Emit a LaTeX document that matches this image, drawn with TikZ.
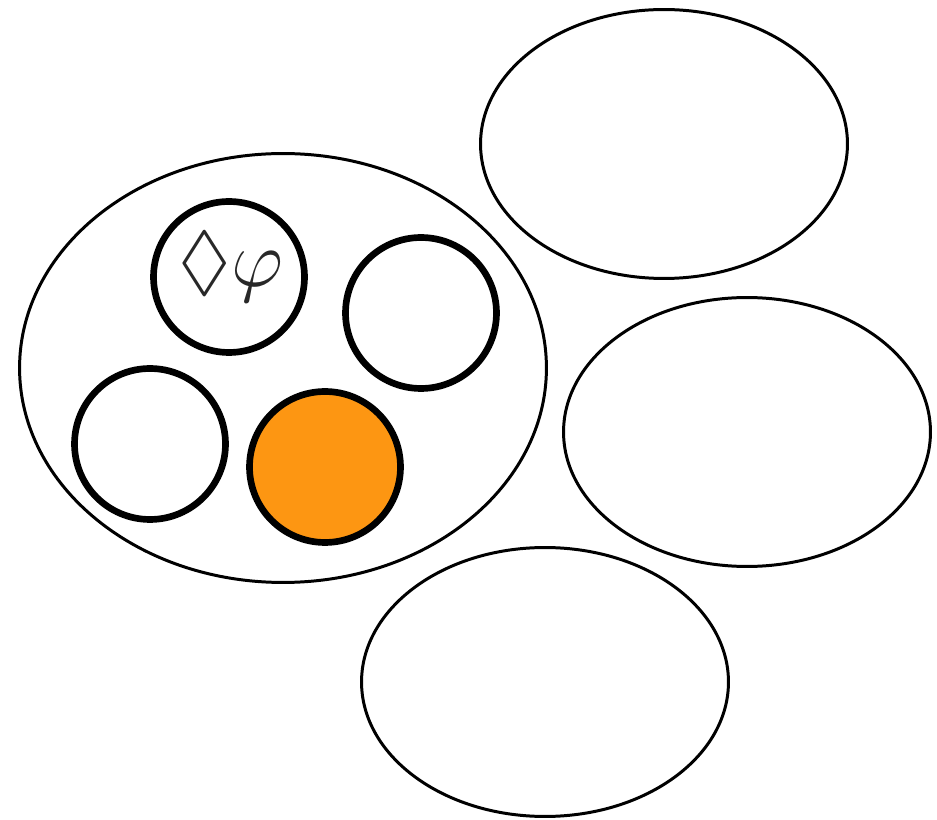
\documentclass[tikz,border=0pt]{standalone}
\usepackage{amssymb}
\usetikzlibrary{shapes.geometric}
\definecolor{worldfill}{RGB}{253,150,18}
\definecolor{labelcol}{RGB}{40,40,40}

\begin{document}
\begin{tikzpicture}[
    x=0.02cm, y=-0.02cm,
    world/.style={
        ellipse,
        draw=black,
        line width=1.7pt,
        minimum width=7.34cm,
        minimum height=5.38cm,
        inner sep=0pt
    },
    cluster/.style={
        world,
        minimum width=10.54cm,
        minimum height=8.58cm
    },
    point/.style={
        circle,
        draw=black,
        line width=3.8pt,
        minimum size=3.02cm,
        inner sep=0pt
    }
]
\useasboundingbox (0,0) rectangle (937,820);

% Outer worlds
\node[cluster] (cluster) at (283,368) {};
\node[world] (topworld) at (664,144) {};
\node[world] (midworld) at (747,432) {};
\node[world] (lowworld) at (545,682) {};

% Points inside the cluster
\node[point] (p1) at (229,277) {};
\node[point] (p2) at (421,313) {};
\node[point] (p3) at (150,444) {};
\node[point, fill=worldfill] (p4) at (325,467) {};

% Label of the first point
\node[text=labelcol, inner sep=0pt, font=\Huge] (lbl) at (231,267)
    {\scalebox{1.8}{$\Diamond$}\scalebox{1.85}{$\varphi$}};

\end{tikzpicture}
\end{document}
